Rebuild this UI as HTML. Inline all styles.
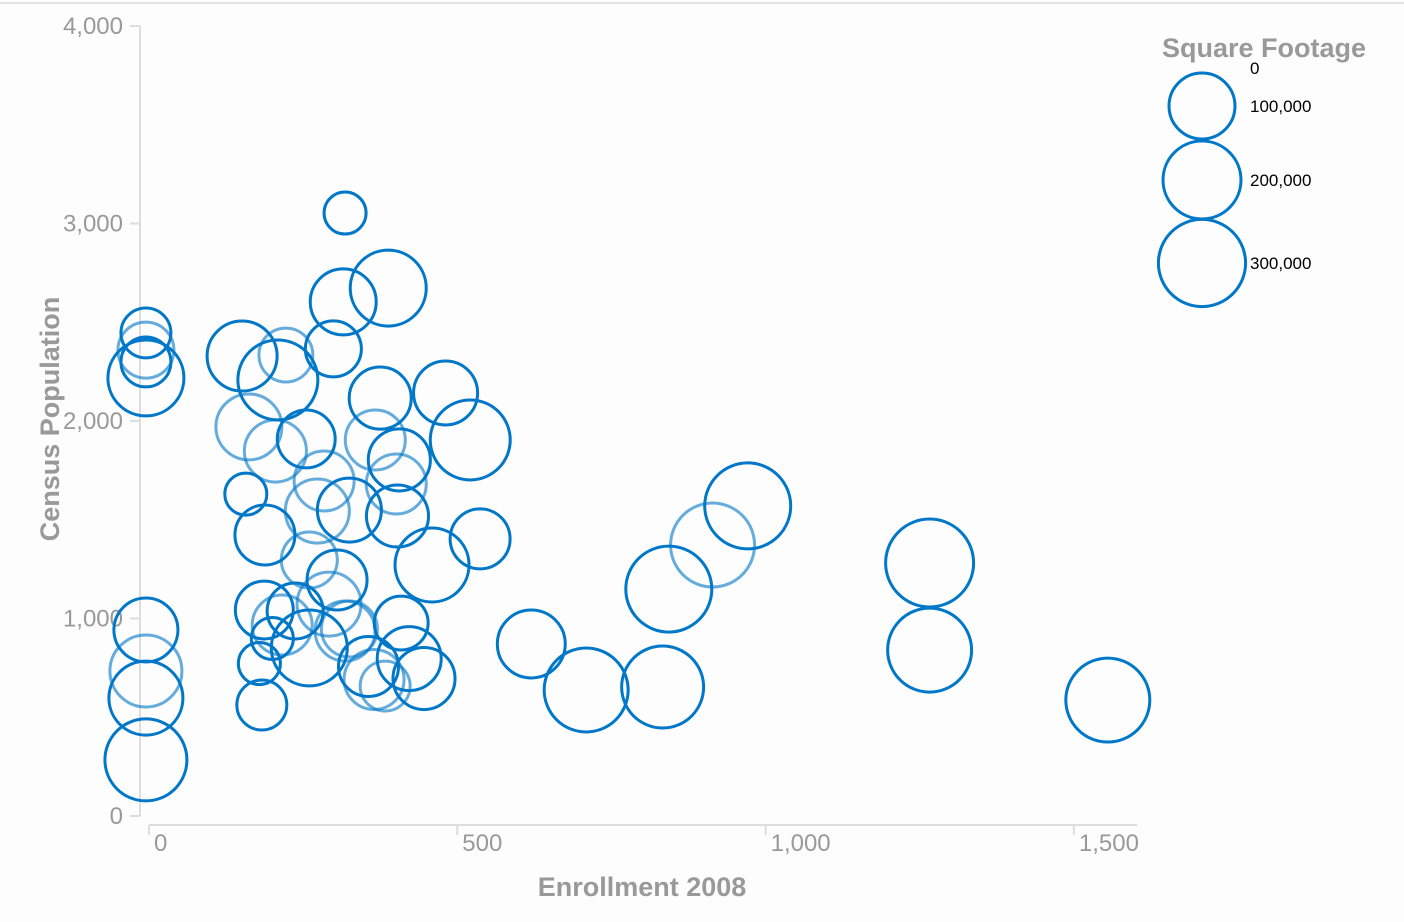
<!DOCTYPE html>
<html><head><meta charset="utf-8"><style>
html,body{margin:0;padding:0;background:#fdfdfd;}
svg{display:block;font-family:"Liberation Sans",Arial,sans-serif;}
</style></head><body>
<svg id="chart" width="1404" height="922" xmlns="http://www.w3.org/2000/svg">
<line x1="0" y1="3" x2="1404" y2="3" stroke="#e4e4e4" stroke-width="2"/>
<g id="axes"></g>
<g id="marks"></g>
<text x="642" y="896" text-anchor="middle" font-size="27" font-weight="bold" fill="#999">Enrollment 2008</text>
<text transform="translate(59,419) rotate(-90)" text-anchor="middle" font-size="27" font-weight="bold" fill="#999">Census Population</text>
<g id="legend">
<text x="1264" y="57" text-anchor="middle" font-size="27" font-weight="bold" fill="#999">Square Footage</text>
</g>
</svg>
<script>
const enrollment=[318,388,315,299,-5,-5,-5,-5,151,222,209,375,481,521,162,205,255,367,406,284,401,157,273,325,403,537,188,459,260,305,187,237,292,216,325,409,200,260,318,179,356,422,365,446,383,183,620,709,833,843,914,971,1266,1266,1555,-5,-5,-5,-5];
const population=[3053,2673,2603,2365,2446,2359,2299,2218,2329,2334,2208,2116,2142,1904,1970,1848,1909,1904,1803,1696,1681,1630,1544,1549,1519,1403,1423,1271,1296,1195,1043,1038,1073,967,947,977,899,851,937,772,757,797,691,696,658,562,871,638,653,1149,1372,1570,1281,840,587,942,734,597,284];
const sqft=[3000,181000,100000,43000,20000,43000,20000,181000,130000,34000,220000,75000,87000,220000,100000,75000,52000,63000,75000,63000,63000,3000,87000,87000,75000,63000,63000,163000,43000,63000,52000,43000,87000,63000,43000,34000,3000,181000,63000,3000,63000,87000,63000,75000,20000,20000,114000,263000,241000,286000,263000,286000,310000,263000,263000,87000,146000,163000,241000];
const light=[0,0,0,0,0,1,0,0,0,1,0,0,0,0,1,1,0,1,0,1,1,0,1,0,0,0,0,0,1,0,0,0,1,1,1,0,0,0,1,0,0,0,1,0,1,0,0,0,0,0,1,0,0,0,0,0,1,0,0];
const xTicks=[0,500,1000,1500];
const xTickLabels=["0","500","1,000","1,500"];
const yTicks=[0,1000,2000,3000,4000];
const yTickLabels=["0","1,000","2,000","3,000","4,000"];
const legendValues=[0,100000,200000,300000];
const legendLabels=["0","100,000","200,000","300,000"];

const NS="http://www.w3.org/2000/svg";
const xs=v=>149+v*0.6166;
const ys=v=>816-v*0.1975;
const rs=v=>18.5+0.0458*Math.sqrt(v);
function mk(tag,attrs,parent){const e=document.createElementNS(NS,tag);for(const k in attrs)e.setAttribute(k,attrs[k]);parent.appendChild(e);return e;}
const axes=document.getElementById('axes');
let l=mk('line',{x1:140,y1:ys(4000),x2:140,y2:ys(0),stroke:'#ddd','stroke-width':2},axes);


yTicks.forEach((t,i)=>{
 const y=ys(t);
 const tk=mk('line',{x1:130,y1:y,x2:140,y2:y,stroke:'#ddd','stroke-width':2},axes);
 
 
 const tx=mk('text',{x:123,y:y+8,'text-anchor':'end','font-size':24,fill:'#999'},axes);
 tx.textContent=yTickLabels[i];
 
 
});
l=mk('line',{x1:xs(0),y1:825,x2:1137,y2:825,stroke:'#ddd','stroke-width':2},axes);


xTicks.forEach((t,i)=>{
 const x=xs(t);
 const tk=mk('line',{x1:x,y1:825,x2:x,y2:835,stroke:'#ddd','stroke-width':2},axes);
 
 
 const tx=mk('text',{x:x+5,y:851,'font-size':24,fill:'#999'},axes);
 tx.textContent=xTickLabels[i];
 
 
});
const marks=document.getElementById('marks');
enrollment.forEach((e,i)=>{
 const c=mk('circle',{cx:xs(e),cy:ys(population[i]),r:rs(sqft[i]),fill:'none',stroke:'#0077c8','stroke-width':3,'stroke-opacity':light[i]?0.6:1},marks);
 
 
});
const lg=document.getElementById('legend');
const ly=[68,106,180,263];
legendValues.forEach((v,i)=>{
 if(v>0){
  const c=mk('circle',{cx:1202,cy:ly[i],r:rs(v),fill:'none',stroke:'#0077c8','stroke-width':3},lg);
  
  
 }
 const t=mk('text',{x:1250,y:ly[i]+6,'font-size':17,fill:'#000'},lg);
 t.textContent=legendLabels[i];
 
 
});
</script>
</body></html>
